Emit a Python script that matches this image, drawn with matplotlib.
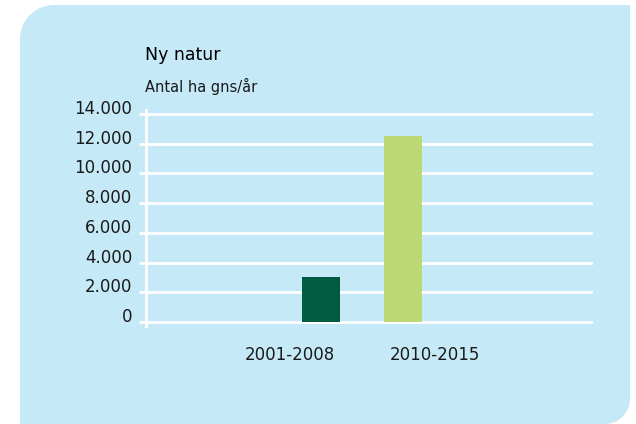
import numpy as np
import matplotlib
matplotlib.use("Agg")
import matplotlib.pyplot as plt
from matplotlib.path import Path
from matplotlib.patches import PathPatch

# Data
PERIODS = ["2001-2008", "2010-2015"]
HECTARES = [3000, 12500]
BAR_COLORS = ["#005c41", "#bdd975"]
Y_TICKS = [0, 2000, 4000, 6000, 8000, 10000, 12000, 14000]
Y_TICK_LABELS = ["0", "2.000", "4.000", "6.000", "8.000", "10.000", "12.000", "14.000"]

TITLE = "Ny natur"
SUBTITLE = "Antal ha gns/år"

BG = "#c6e9f8"
TEXT = "#1a1a1a"
W, H = 636, 424


def panel_path():
    """Light blue panel with a rounded top-left and bottom-right corner (pixel coords)."""
    left, right, top, bottom = 20, 630, 5, 424
    r1, r2 = 34, 25
    pts = []
    # top-left arc
    for a in np.linspace(np.pi, np.pi / 2, 20):
        pts.append((left + r1 + r1 * np.cos(a), top + r1 - r1 * np.sin(a)))
    pts.append((right, top))
    # bottom-right arc
    for a in np.linspace(0, -np.pi / 2, 20):
        pts.append((right - r2 + r2 * np.cos(a), bottom - r2 - r2 * np.sin(a)))
    pts.append((left, bottom))
    pts.append(pts[0])
    pts = [(x / W, 1 - y / H) for x, y in pts]
    return Path(pts)


fig = plt.figure(figsize=(W / 100, H / 100), dpi=100)
fig.patch.set_facecolor("white")
fig.patches.append(PathPatch(panel_path(), transform=fig.transFigure,
                             facecolor=BG, edgecolor="none", zorder=-10))

ax = fig.add_axes([146 / W, 1 - 322 / H, 445 / W, 208 / H])
ax.set_facecolor("none")
ax.set_zorder(1)

x = np.arange(len(PERIODS))
ax.bar(x, HECTARES, width=0.46, color=BAR_COLORS, zorder=3)

ax.set_xlim(-2.134, 3.293)
ax.set_ylim(0, 14000)

# gridlines in white
ax.set_yticks(Y_TICKS)
ax.set_yticklabels(Y_TICK_LABELS, fontsize=12, color=TEXT)
for lbl in ax.get_yticklabels():
    lbl.set_verticalalignment("baseline")
ax.yaxis.grid(True, color="white", linewidth=2)
for gl in ax.get_ygridlines():
    gl.set_clip_on(False)
ax.tick_params(axis="y", length=5, width=2, color="white", pad=5)

# category labels sit a little off the bars
ax.set_xticks(x + np.array([-0.385, 0.385]))
ax.set_xticklabels(PERIODS, fontsize=12, color=TEXT)
ax.tick_params(axis="x", length=0, pad=17)

for side in ["top", "right", "bottom"]:
    ax.spines[side].set_visible(False)
ax.spines["left"].set_color("white")
ax.spines["left"].set_linewidth(2)
ax.spines["left"].set_bounds(-250, 14250)
ax.set_axisbelow(True)

fig.text(145 / W, 1 - 60 / H, TITLE, fontsize=12.5, color="black", va="baseline")
fig.text(145 / W, 1 - 92 / H, SUBTITLE, fontsize=10.5, color=TEXT, va="baseline")

fig.savefig("out.png", dpi=100)
